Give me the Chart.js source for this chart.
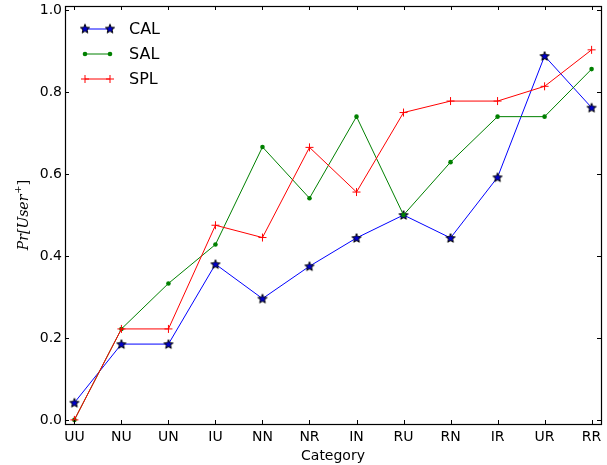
<!DOCTYPE html>
<html>
<head>
<meta charset="utf-8">
<script src="https://cdn.jsdelivr.net/npm/chart.js@4/dist/chart.umd.min.js"></script>
<style>
  html, body { margin: 0; padding: 0; background: #fff; }
  #wrap { width: 607px; height: 465px; }
</style>
</head>
<body>
<div id="wrap"><canvas id="myChart" width="607" height="465"></canvas></div>
<script>
// categories and series
const categories = ['UU', 'NU', 'UN', 'IU', 'NN', 'NR', 'IN', 'RU', 'RN', 'IR', 'UR', 'RR'];
const calValues = [0.042, 0.185, 0.185, 0.380, 0.296, 0.375, 0.444, 0.500, 0.444, 0.592, 0.888, 0.762];
const salValues = [0.000, 0.222, 0.333, 0.428, 0.666, 0.541, 0.740, 0.500, 0.629, 0.740, 0.740, 0.856];
const splValues = [0.000, 0.222, 0.222, 0.475, 0.445, 0.665, 0.556, 0.750, 0.778, 0.778, 0.814, 0.903];
const yTicks = [0.0, 0.2, 0.4, 0.6, 0.8, 1.0];

const FONT = "'DejaVu Sans', sans-serif";

// filled star marker with black edge
function makeStar(fill) {
    const c = document.createElement('canvas');
    c.width = 12; c.height = 12;
    const g = c.getContext('2d');
    g.beginPath();
    for (let i = 0; i < 10; i++) {
        const r = i % 2 === 0 ? 4.8 : 2.1;
        const a = -Math.PI / 2 + i * Math.PI / 5;
        const px = 6 + r * Math.cos(a), py = 6.4 + r * Math.sin(a);
        if (i === 0) g.moveTo(px, py); else g.lineTo(px, py);
    }
    g.closePath();
    g.fillStyle = fill;
    g.fill();
    g.lineWidth = 1;
    g.strokeStyle = '#000';
    g.stroke();
    return c;
}
const starImg = makeStar('#0000cc');

function toPoints(arr) {
    return arr.map((v, i) => ({ x: i, y: v }));
}

const datasets = [
    { label: 'CAL', data: toPoints(calValues), borderColor: '#0000ff', backgroundColor: '#0000ff',
      pointStyle: starImg, pointRadius: 5, borderWidth: 1, order: 3 },
    { label: 'SAL', data: toPoints(salValues), borderColor: '#008000', backgroundColor: '#008000',
      pointStyle: 'circle', pointRadius: 2.3, pointBorderWidth: 0, borderWidth: 1, order: 2 },
    { label: 'SPL', data: toPoints(splValues), borderColor: '#ff0000', backgroundColor: '#ff0000',
      pointStyle: 'cross', pointRadius: 4, pointBorderWidth: 1, borderWidth: 1, order: 1 }
];

// frame, inward ticks, legend and y title
const decorPlugin = {
    id: 'decor',
    afterDraw(chart) {
        const ctx = chart.ctx;
        const a = chart.chartArea;
        const xs = chart.scales.x, ys = chart.scales.y;
        ctx.save();
        ctx.strokeStyle = '#000';
        ctx.lineWidth = 1;
        ctx.beginPath();
        const tl = 4;
        yTicks.forEach(v => {
            const py = Math.round(ys.getPixelForValue(v)) + 0.5;
            ctx.moveTo(a.left, py); ctx.lineTo(a.left + tl, py);
            ctx.moveTo(a.right, py); ctx.lineTo(a.right - tl, py);
        });
        categories.forEach((c, i) => {
            const px = Math.round(xs.getPixelForValue(i)) + 0.5;
            ctx.moveTo(px, a.bottom); ctx.lineTo(px, a.bottom - tl);
            ctx.moveTo(px, a.top); ctx.lineTo(px, a.top + tl);
        });
        ctx.stroke();
        ctx.lineWidth = 1.2;
        ctx.strokeRect(Math.round(a.left) + 0.5, Math.round(a.top) + 0.5,
            Math.round(a.right - a.left), Math.round(a.bottom - a.top));

        // legend
        const rows = [29, 54, 79];
        chart.data.datasets.forEach((ds, k) => {
            const y = rows[k];
            ctx.strokeStyle = ds.borderColor;
            ctx.lineWidth = 1;
            ctx.beginPath();
            ctx.moveTo(85, y); ctx.lineTo(110, y);
            ctx.stroke();
            [85, 110].forEach(mx => {
                if (ds.label === 'CAL') {
                    ctx.drawImage(starImg, mx - 6, y - 6.4);
                } else if (ds.label === 'SAL') {
                    ctx.fillStyle = ds.backgroundColor;
                    ctx.beginPath(); ctx.arc(mx, y, 2.3, 0, Math.PI * 2); ctx.fill();
                } else {
                    ctx.beginPath();
                    ctx.moveTo(mx - 4, y); ctx.lineTo(mx + 4, y);
                    ctx.moveTo(mx, y - 4); ctx.lineTo(mx, y + 4);
                    ctx.stroke();
                }
            });
            ctx.fillStyle = '#000';
            ctx.font = '16px ' + FONT;
            ctx.textBaseline = 'middle';
            ctx.textAlign = 'left';
            ctx.fillText(ds.label, 129, y + 1);
        });

        // y axis title with superscript
        ctx.translate(24, (a.top + a.bottom) / 2);
        ctx.rotate(-Math.PI / 2);
        ctx.fillStyle = '#000';
        ctx.textBaseline = 'middle';
        ctx.textAlign = 'left';
        const main = 'Pr[User';
        ctx.font = "italic 14px 'DejaVu Serif', serif";
        const w1 = ctx.measureText(main).width;
        ctx.font = "10px 'DejaVu Serif', serif";
        const w2 = ctx.measureText('+').width;
        ctx.font = "14px 'DejaVu Serif', serif";
        const w3 = ctx.measureText(']').width;
        const total = w1 + w2 + w3 + 1;
        let x0 = -total / 2;
        ctx.font = "italic 14px 'DejaVu Serif', serif";
        ctx.fillText(main, x0, 0);
        ctx.font = "10px 'DejaVu Serif', serif";
        ctx.fillText('+', x0 + w1 + 1, -6);
        ctx.font = "14px 'DejaVu Serif', serif";
        ctx.fillText(']', x0 + w1 + w2 + 1, 0);
        ctx.restore();
    }
};

new Chart(document.getElementById('myChart').getContext('2d'), {
    type: 'line',
    data: { datasets: datasets },
    options: {
        responsive: false,
        animation: false,
        layout: { padding: { left: 0, right: -3, top: 6, bottom: 0 } },
        plugins: { legend: { display: false }, tooltip: { enabled: false } },
        elements: { line: { tension: 0 } },
        scales: {
            x: {
                type: 'linear',
                min: -0.2,
                max: 11.2,
                grid: { display: false, drawTicks: false },
                border: { display: false },
                afterBuildTicks: s => { s.ticks = categories.map((c, i) => ({ value: i })); },
                afterFit: s => { s.height = 41; s.paddingLeft = 0; s.paddingRight = 0; },
                ticks: {
                    autoSkip: false,
                    maxRotation: 0,
                    padding: 5,
                    color: '#000',
                    font: { family: FONT, size: 14 },
                    callback: v => categories[v]
                },
                title: {
                    display: true,
                    text: 'Category',
                    color: '#000',
                    font: { family: FONT, size: 14 },
                    padding: { top: 0, bottom: 0 }
                }
            },
            y: {
                min: -0.01,
                max: 1.01,
                grid: { display: false, drawTicks: false },
                border: { display: false },
                afterBuildTicks: s => { s.ticks = yTicks.map(v => ({ value: v })); },
                afterFit: s => { s.width = 65; s.paddingTop = 0; s.paddingBottom = 0; },
                ticks: {
                    padding: 3,
                    color: '#000',
                    font: { family: FONT, size: 14 },
                    callback: v => v.toFixed(1)
                }
            }
        }
    },
    plugins: [decorPlugin]
});
</script>
</body>
</html>
